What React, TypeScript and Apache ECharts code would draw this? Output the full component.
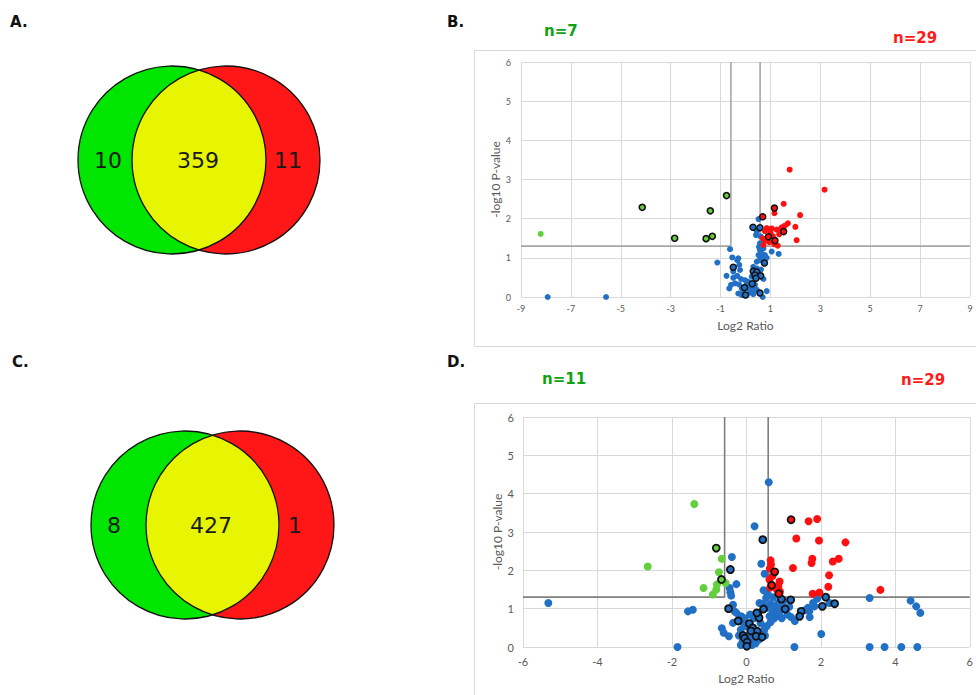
import React, { useEffect, useRef } from "react";
import * as echarts from "echarts";

// ---------- Venn counts ----------
const vennACounts = [10, 359, 11];
const vennCCounts = [8, 427, 1];
const panelLabels = ["A.", "B.", "C.", "D."];
const nLabelsB = ["n=7", "n=29"];
const nLabelsD = ["n=11", "n=29"];

// ---------- thresholds ----------
const pThreshold = 1.3; // -log10(0.05)
const fcThreshold = 0.585; // log2(1.5)

// ---------- axis ranges ----------
const bXRange = [-9, 9];
const dXRange = [-6, 6];
const yRange = [0, 6];

// ---------- Panel B data [log2 ratio, -log10 p] ----------
const bGreen: [number, number][] = [[-8.21, 1.61]];
const bGreenOutlined: [number, number][] = [
  [-4.14, 2.29], [-2.84, 1.5], [-1.58, 1.49], [-1.41, 2.2], [-1.33, 1.55], [-0.76, 2.59],
];
const bRed: [number, number][] = [
  [1.77, 3.25], [3.17, 2.74], [1.53, 2.38], [1.16, 2.14], [2.19, 2.09], [1.7, 1.88],
  [2.0, 1.79], [2.05, 1.45], [1.29, 1.31], [0.72, 1.33], [0.69, 1.5], [0.85, 1.76],
  [1.05, 1.75], [1.25, 1.72], [1.45, 1.78], [1.58, 1.82], [0.78, 1.68], [1.0, 1.65],
  [1.35, 1.6], [1.1, 1.55], [0.8, 1.45], [1.4, 1.7], [0.95, 1.4], [1.15, 1.35],
];
const bRedOutlined: [number, number][] = [
  [1.16, 2.27], [0.69, 2.05], [1.53, 1.67], [0.92, 1.54], [1.18, 1.44],
];
const bBlue: [number, number][] = [
  [-7.93, 0], [-5.59, 0], [-1.13, 0.88], [-0.62, 1.22], [-0.53, 1.01], [-0.29, 0.99],
  [-0.25, 0.82], [-0.22, 0.69], [-0.76, 0.54], [-0.49, 0.49], [-0.33, 0.54], [-0.58, 0.31],
  [-0.65, 0.22], [-0.26, 0.32], [-0.15, 0.22], [-0.29, 0.09], [-0.09, 0.14], [0.11, 0.22],
  [0.18, 0.12], [0.31, 0.07], [0.45, 0.18], [0.38, 0.31], [0.11, 0.39], [0.25, 0.52],
  [0.45, 0.73], [0.31, 0.77], [0.72, 0.46], [0.69, 0], [0.85, 0.15], [0.05, 0.31],
  [-0.02, 0.43], [0.52, 1.99], [0.45, 1.67], [0.42, 1.58], [0.54, 1.28], [0.72, 1.24],
  [0.65, 1.11], [0.78, 1.07], [0.52, 1.07], [0.58, 0.94], [0.85, 1.0], [1.05, 1.16],
  [1.33, 1.1], [0.72, 1.41], [0.58, 1.37], [-0.33, 0.94], [-0.49, 0.65], [-0.18, 0.46],
  [0.05, 0.05], [0.25, 0.18], [-0.15, 0.05], [-0.42, 0.35], [0.45, 0.9], [0.65, 0.99],
  [0.58, 1.2], [0.38, 0.22], [0.28, 0.31], [0.6, 1.55], [0.62, 0.7], [0.5, 0.6],
];
const bBlueOutlined: [number, number][] = [
  [0.3, 1.78], [0.58, 1.77], [-0.49, 0.76], [0.76, 0.87], [0.31, 0.66], [0.45, 0.64],
  [0.38, 0.56], [0.61, 0.54], [0.42, 0.48], [0.27, 0.34], [-0.04, 0.24], [0.0, 0.05],
  [0.58, 0.1],
];

// ---------- Panel D data ----------
const dGreen: [number, number][] = [
  [-1.4, 3.73], [-2.65, 2.1], [-0.66, 2.3], [-0.74, 1.95], [-1.15, 1.54], [-0.79, 1.63],
  [-0.81, 1.5], [-0.9, 1.37], [-0.56, 1.67],
];
const dGreenOutlined: [number, number][] = [[-0.81, 2.58], [-0.67, 1.76]];
const dRed: [number, number][] = [
  [1.67, 3.28], [1.9, 3.34], [1.34, 2.83], [1.95, 2.78], [2.66, 2.73], [0.65, 2.26],
  [0.66, 2.15], [1.77, 2.3], [1.75, 2.19], [2.32, 2.23], [2.48, 2.3], [1.25, 2.06],
  [2.22, 1.87], [0.62, 1.76], [0.89, 1.71], [0.86, 1.59], [2.2, 1.57], [1.78, 1.39],
  [1.96, 1.42], [3.6, 1.49], [0.7, 1.85], [0.82, 1.5], [0.63, 2.05], [0.9, 1.45],
  [0.64, 1.55],
];
const dRedOutlined: [number, number][] = [[1.2, 3.32], [0.76, 1.96], [0.68, 1.61], [0.87, 1.39]];
const dBlue: [number, number][] = [
  [-5.32, 1.15], [-1.85, 0], [-1.57, 0.93], [-1.44, 0.97], [-0.66, 0.49], [-0.61, 0.37],
  [-0.47, 0.28], [-0.39, 2.35], [-0.27, 1.64], [-0.45, 1.54], [-0.43, 1.43], [-0.41, 1.34],
  [-0.36, 1.1], [-0.27, 0.89], [-0.14, 0.8], [-0.36, 0.63], [-0.32, 0.93], [-0.09, 0.63],
  [0.0, 0.54], [-0.15, 0.45], [-0.2, 0.3], [-0.1, 0.15], [-0.15, 0.05], [0.05, 0.3],
  [0.1, 0.2], [0.15, 0.05], [0.6, 4.3], [0.22, 3.15], [0.4, 2.17], [0.49, 1.91],
  [0.46, 1.48], [0.53, 1.45], [0.58, 1.37], [0.53, 1.28], [0.35, 1.15], [0.45, 1.12],
  [0.55, 1.02], [0.65, 1.12], [0.75, 1.05], [0.8, 0.95], [0.7, 0.9], [0.62, 0.8],
  [0.75, 0.75], [0.88, 0.85], [0.95, 0.75], [1.1, 0.85], [1.2, 0.78], [1.3, 0.68],
  [1.55, 0.95], [1.65, 1.02], [1.69, 0.93], [1.7, 0.78], [1.83, 1.06], [1.79, 1.15],
  [1.9, 1.26], [2.23, 1.15], [2.01, 0.34], [1.29, 0], [3.31, 1.28], [3.31, 0],
  [3.71, 0], [4.16, 0], [4.59, 0], [4.41, 1.21], [4.56, 1.06], [4.67, 0.89],
  [0.55, 0.55], [0.65, 0.65], [0.48, 0.45], [0.38, 0.62], [0.2, 0.75], [0.35, 0.2],
  [0.25, 0.1], [0.5, 0.3], [0.85, 1.15], [1.0, 1.2], [0.95, 1.0], [1.15, 1.05],
  [0.72, 1.3], [-0.05, 0.75], [0.1, 0.85],
];
const dBlueOutlined: [number, number][] = [
  [0.44, 2.8], [-0.43, 2.02], [-0.48, 1.0], [-0.22, 0.68], [0.31, 0.87], [0.34, 0.76],
  [0.46, 0.99], [0.94, 1.25], [1.04, 0.99], [1.19, 1.23], [1.47, 0.93], [1.43, 0.8],
  [2.13, 1.3], [2.04, 1.06], [2.37, 1.13], [0.08, 0.61], [0.17, 0.5], [0.29, 0.41],
  [0.26, 0.28], [0.42, 0.26], [-0.09, 0.3], [-0.05, 0.23], [0.02, 0.13], [0.01, 0.02],
  [0.28, 0.89], [0.12, 0.42],
];

// ---------- colours ----------
const BLUE = "#2170c6";
const RED = "#ff0f0f";
const GREEN = "#62cf3c";

// lens shape for venn intersection (centred at origin)
const LENS_D = "M 0 -90 A 94 94 0 0 1 0 90 A 94 94 0 0 1 0 -90 Z";
try {
  echarts.graphic.registerShape("lens", echarts.graphic.extendPath(LENS_D, {}) as any);
} catch (e) {
  // ignore
}

function venn(cx1: number, cx2: number, cy: number, counts: number[], textPos: number[]) {
  const r = 94;
  const els: any[] = [
    { type: "circle", shape: { cx: cx1, cy, r }, style: { fill: "#00e600" }, silent: true },
    { type: "circle", shape: { cx: cx2, cy, r }, style: { fill: "#ff1616" }, silent: true },
    { type: "lens", x: (cx1 + cx2) / 2, y: cy, style: { fill: "#e8f500" }, silent: true },
    { type: "circle", shape: { cx: cx1, cy, r }, style: { fill: "none", stroke: "#111", lineWidth: 1.3 }, silent: true },
    { type: "circle", shape: { cx: cx2, cy, r }, style: { fill: "none", stroke: "#111", lineWidth: 1.3 }, silent: true },
  ];
  counts.forEach((c, i) => {
    els.push({
      type: "text",
      x: textPos[i],
      y: cy,
      style: {
        text: String(c),
        fill: "#1a1a1a",
        font: "22px 'DejaVu Sans'",
        align: "center",
        verticalAlign: "middle",
      },
      silent: true,
    });
  });
  return els;
}

function label(text: string, x: number, y: number, color: string, size: number) {
  return {
    type: "text",
    x,
    y,
    style: {
      text,
      fill: color,
      font: `bold ${size}px 'DejaVu Sans'`,
      align: "left",
      verticalAlign: "middle",
    },
    silent: true,
  };
}

function xAxis(grid: number, range: number[], fs: number, margin: number, nameGap: number) {
  return {
    gridIndex: grid,
    type: "value",
    min: range[0],
    max: range[1],
    interval: 2,
    axisLine: { show: false, onZero: false },
    axisTick: { show: false },
    axisLabel: { color: "#595959", fontSize: fs, fontFamily: "Lato", margin },
    splitLine: { show: true, lineStyle: { color: "#d9d9d9", width: 1 } },
    name: "Log2 Ratio",
    nameLocation: "middle",
    nameGap,
    nameTextStyle: { color: "#595959", fontSize: 12, fontFamily: "Lato" },
  };
}

function yAxis(grid: number, fs: number, margin: number, nameGap: number) {
  return {
    gridIndex: grid,
    type: "value",
    min: yRange[0],
    max: yRange[1],
    interval: 1,
    axisLine: { show: false, onZero: false },
    axisTick: { show: false },
    axisLabel: { color: "#595959", fontSize: fs, fontFamily: "Lato", margin },
    splitLine: { show: true, lineStyle: { color: "#d9d9d9", width: 1 } },
    name: "-log10 P-value",
    nameLocation: "middle",
    nameGap,
    nameTextStyle: { color: "#595959", fontSize: 12, fontFamily: "Lato" },
  };
}

function scatter(data: [number, number][], grid: number, color: string, size: number, outlined: boolean, bw: number, z: number) {
  return {
    type: "scatter",
    xAxisIndex: grid,
    yAxisIndex: grid,
    data,
    symbol: "circle",
    symbolSize: size,
    silent: true,
    z,
    itemStyle: {
      color,
      opacity: 1,
      borderColor: outlined ? "#111" : color,
      borderWidth: outlined ? bw : 0,
    },
  };
}

function thresholdLines(grid: number, range: number[], color: string) {
  const mk = (data: number[][]) => ({
    type: "line",
    xAxisIndex: grid,
    yAxisIndex: grid,
    data,
    symbol: "none",
    silent: true,
    z: 1,
    lineStyle: { color, width: 1.6 },
  });
  return [
    mk([[range[0], pThreshold], [-fcThreshold, pThreshold], [-fcThreshold, yRange[1]]]),
    mk([[fcThreshold, yRange[1]], [fcThreshold, pThreshold], [range[1], pThreshold]]),
  ];
}

export default function App() {
  const ref = useRef<HTMLDivElement>(null);
  useEffect(() => {
    document.body.style.margin = "0";
    if (!ref.current) return;
    const chart = echarts.init(ref.current, undefined, { renderer: "svg" });
    const graphic: any[] = [
      { type: "rect", shape: { x: 474.5, y: 50.5, width: 520, height: 296 }, style: { fill: "none", stroke: "#d9d9d9", lineWidth: 1 }, silent: true, z: -10 },
      { type: "rect", shape: { x: 474.5, y: 403.5, width: 520, height: 400 }, style: { fill: "none", stroke: "#d9d9d9", lineWidth: 1 }, silent: true, z: -10 },
      ...venn(172, 226, 160, vennACounts, [108, 198, 288]),
      ...venn(185, 240, 525, vennCCounts, [114, 211, 295]),
      label(panelLabels[0], 10, 22, "#111", 15),
      label(panelLabels[1], 447, 22, "#111", 15),
      label(panelLabels[2], 12, 362, "#111", 15),
      label(panelLabels[3], 447, 362, "#111", 15),
      label(nLabelsB[0], 544, 31, "#12a112", 15),
      label(nLabelsB[1], 893, 38, "#ff1a1a", 15),
      label(nLabelsD[0], 542, 379, "#12a112", 15),
      label(nLabelsD[1], 901, 380, "#ff1a1a", 15),
    ];
    chart.setOption({
      animation: false,
      backgroundColor: "#ffffff",
      grid: [
        { left: 521, top: 62, width: 449, height: 235 },
        { left: 523, top: 417, width: 447, height: 230 },
      ],
      xAxis: [xAxis(0, bXRange, 9, 7, 22), xAxis(1, dXRange, 11, 9, 25)],
      yAxis: [yAxis(0, 9, 10, 17), yAxis(1, 11, 9, 18)],
      graphic,
      series: [
        ...thresholdLines(0, bXRange, "#a6a6a6"),
        ...thresholdLines(1, dXRange, "#7f7f7f"),
        scatter(bBlue, 0, BLUE, 6, false, 0, 2),
        scatter(bBlueOutlined, 0, BLUE, 6, true, 1.5, 3),
        scatter(bRed, 0, RED, 6, false, 0, 4),
        scatter(bRedOutlined, 0, RED, 6, true, 1.5, 5),
        scatter(bGreen, 0, GREEN, 6, false, 0, 4),
        scatter(bGreenOutlined, 0, GREEN, 6, true, 1.6, 5),
        scatter(dBlue, 1, BLUE, 8, false, 0, 2),
        scatter(dBlueOutlined, 1, BLUE, 7, true, 1.8, 3),
        scatter(dRed, 1, RED, 8, false, 0, 4),
        scatter(dRedOutlined, 1, RED, 7, true, 1.8, 5),
        scatter(dGreen, 1, GREEN, 8, false, 0, 4),
        scatter(dGreenOutlined, 1, GREEN, 7, true, 1.8, 5),
      ],
    });
    return () => chart.dispose();
  }, []);
  return (
    <div
      ref={ref}
      style={{ position: "absolute", left: 0, top: 0, width: 976, height: 695, background: "#fff" }}
    />
  );
}
